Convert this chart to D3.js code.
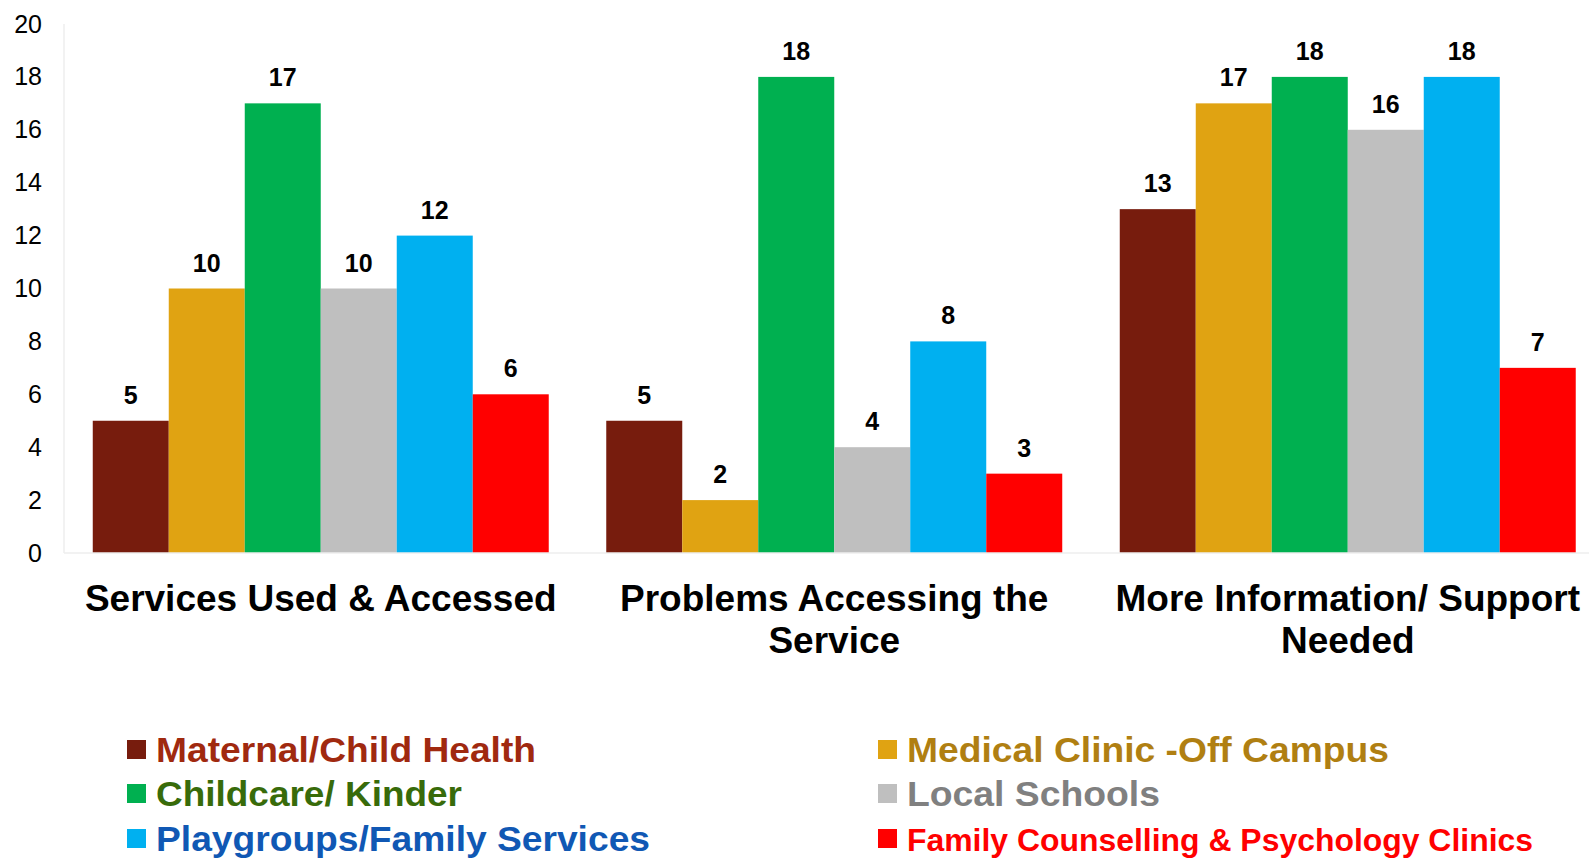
<!DOCTYPE html>
<html>
<head>
<meta charset="utf-8">
<script src="https://cdn.jsdelivr.net/npm/d3@7"></script>
<style>
  html, body { margin: 0; padding: 0; background: #fff; }
  svg { display: block; }
</style>
</head>
<body>
<div id="chart"></div>
<script>
// categories and series
const categories = ["Services Used & Accessed", "Problems Accessing the Service", "More Information/ Support Needed"];
const categoryLines = [["Services Used & Accessed"], ["Problems Accessing the", "Service"], ["More Information/ Support", "Needed"]];
const seriesNames = ["Maternal/Child Health", "Medical Clinic -Off Campus", "Childcare/ Kinder", "Local Schools", "Playgroups/Family Services", "Family Counselling & Psychology Clinics"];
const maternal = [5, 5, 13];
const medical = [10, 2, 17];
const childcare = [17, 18, 18];
const schools = [10, 4, 16];
const playgroups = [12, 8, 18];
const counselling = [6, 3, 7];
const yTicks = [0, 2, 4, 6, 8, 10, 12, 14, 16, 18, 20];

const seriesValues = [maternal, medical, childcare, schools, playgroups, counselling];
const barColors = ["#771C0D", "#E0A312", "#00B050", "#BFBFBF", "#00B0F0", "#FF0000"];
const textColors = ["#A0290F", "#B07F12", "#386B0A", "#808080", "#1058B4", "#FF0000"];

let width = 1589, height = 858;
let margin = {top: 24, left: 64, bottom: 305};

let svg = d3.select("#chart").append("svg")
  .attr("width", width)
  .attr("height", height)
  .style("background-color", "#FFFFFF");

// x scale: one band per category, inner band per series
let xScale = d3.scaleBand()
  .domain(categories)
  .range([margin.left, margin.left + 3 * 513.5])
  .paddingInner(0.112)
  .paddingOuter(0.056);

let xInner = d3.scaleBand()
  .domain(seriesNames)
  .range([0, xScale.bandwidth()]);

let yScale = d3.scaleLinear()
  .domain([0, 20])
  .range([553, 24]);

// axis lines (very light)
svg.append("line")
  .attr("x1", margin.left).attr("x2", margin.left)
  .attr("y1", yScale(20)).attr("y2", yScale(0))
  .attr("stroke", "#eeeeee").attr("stroke-width", 1.5);

// y tick labels
let yAxis = svg.append("g")
  .attr("transform", "translate(" + (margin.left - 22) + ",0)")
  .call(d3.axisLeft(yScale).tickValues(yTicks).tickSize(0).tickPadding(0));
yAxis.select(".domain").remove();
yAxis.selectAll("text")
  .attr("font-family", "Liberation Sans, Arial, sans-serif")
  .attr("font-size", 25)
  .attr("fill", "#000");

// bars
let groups = svg.selectAll(".grp")
  .data(categories)
  .enter().append("g")
  .attr("class", "grp")
  .attr("transform", d => "translate(" + xScale(d) + ",0)");

groups.each(function(cat, ci) {
  let g = d3.select(this);
  let rows = seriesNames.map((s, si) => ({s: s, si: si, v: seriesValues[si][ci]}));
  g.selectAll("rect")
    .data(rows)
    .enter().append("rect")
    .attr("x", d => xInner(d.s))
    .attr("y", d => yScale(d.v))
    .attr("width", xInner.bandwidth())
    .attr("height", d => yScale(0) - yScale(d.v))
    .attr("fill", d => barColors[d.si]);

  g.selectAll("text.val")
    .data(rows)
    .enter().append("text")
    .attr("class", "val")
    .attr("x", d => xInner(d.s) + xInner.bandwidth() / 2)
    .attr("y", d => yScale(d.v) - 17)
    .attr("text-anchor", "middle")
    .attr("font-family", "Liberation Sans, Arial, sans-serif")
    .attr("font-weight", "bold")
    .attr("font-size", 25)
    .attr("fill", "#000")
    .text(d => d.v);
});

svg.append("line")
  .attr("x1", margin.left).attr("x2", width)
  .attr("y1", yScale(0)).attr("y2", yScale(0))
  .attr("stroke", "#eeeeee").attr("stroke-width", 1.5);

// category labels
categories.forEach(function(cat, ci) {
  let t = svg.append("text")
    .attr("x", xScale(cat) + xScale.bandwidth() / 2)
    .attr("y", 611)
    .attr("text-anchor", "middle")
    .attr("font-family", "Liberation Sans, Arial, sans-serif")
    .attr("font-weight", "bold")
    .attr("font-size", 37)
    .attr("fill", "#000");
  categoryLines[ci].forEach(function(line, li) {
    t.append("tspan")
      .attr("x", xScale(cat) + xScale.bandwidth() / 2)
      .attr("dy", li === 0 ? 0 : 42)
      .text(line);
  });
});

// legend, two columns
let legendX = [127, 878];
let legendY = [762, 806, 851];
let legendWidths = [380, 482, 306, 253, 494, 626];
seriesNames.forEach(function(name, i) {
  let col = i % 2, row = Math.floor(i / 2);
  let lg = svg.append("g");
  lg.append("rect")
    .attr("x", legendX[col])
    .attr("y", legendY[row] - 22)
    .attr("width", 19)
    .attr("height", 19)
    .attr("fill", barColors[i]);
  lg.append("text")
    .attr("x", legendX[col] + 29)
    .attr("y", legendY[row])
    .attr("font-family", "Liberation Sans Narrow, Arial Narrow, Liberation Sans, sans-serif")
    .attr("font-weight", "bold")
    .attr("font-size", i === 5 ? 31 : 35)
    .attr("textLength", legendWidths[i])
    .attr("lengthAdjust", "spacingAndGlyphs")
    .attr("fill", textColors[i])
    .text(name);
});
</script>
</body>
</html>
